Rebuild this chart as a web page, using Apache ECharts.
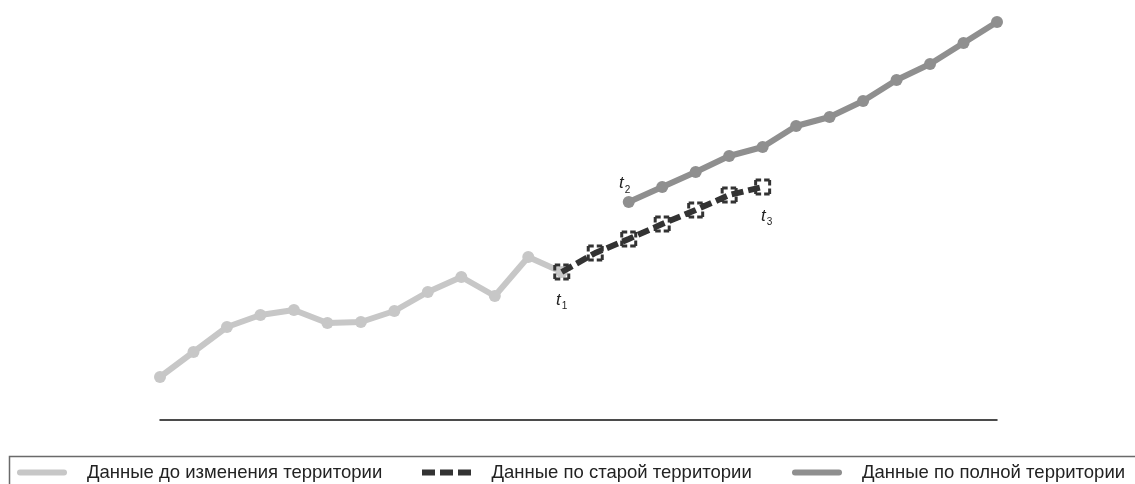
<!DOCTYPE html>
<html>
<head>
<meta charset="utf-8">
<script src="https://cdn.jsdelivr.net/npm/echarts@6/dist/echarts.min.js"></script>
<style>
html,body{margin:0;padding:0;background:#fff;}
#chart{width:1135px;height:484px;}
</style>
</head>
<body>
<div id="chart"></div>
<script>
// ---- data ----
var categories = ['1','2','3','4','5','6','7','8','9','10','11','12','13',
                  '14','15','16','17','18','19','20','21','22','23','24','25','26'];
var seriesNames = ['Данные до изменения территории', 'Данные по старой территории', 'Данные по полной территории'];
// before territory change: categories 1..13
var beforeValues = [43, 68, 93, 105, 110, 97, 98, 109, 128, 143, 124, 163, 148];
// old territory: categories 13..19
var oldValues = [148, 167, 181, 196, 210, 225, 233];
var oldStart = 12;
// full territory: categories 15..26
var fullValues = [218, 233, 248, 264, 273, 294, 303, 319, 340, 356, 377, 398];
var fullStart = 14;
var markerLabels = ['1', '2', '3'];

function pad(start, vals) {
  var out = [];
  for (var i = 0; i < categories.length; i++) {
    var j = i - start;
    out.push(j >= 0 && j < vals.length ? vals[j] : null);
  }
  return out;
}

var richT = {
  t: {fontSize: 17, fontStyle: 'italic', fontFamily: 'Liberation Sans, Arial', color: '#222', verticalAlign: 'top', lineHeight: 18},
  s: {fontSize: 10, fontFamily: 'Liberation Sans, Arial', color: '#222', verticalAlign: 'top', lineHeight: 10, padding: [10, 0, 0, 1]}
};
function tLabel(sub, pos, dist, off) {
  return {show: true, formatter: '{t|t}{s|' + sub + '}', rich: richT, position: pos, distance: dist, offset: off};
}

var beforeData = pad(0, beforeValues);
var oldData = pad(oldStart, oldValues);
var fullData = pad(fullStart, fullValues);
oldData[oldStart] = {value: oldData[oldStart], label: tLabel(markerLabels[0], 'bottom', 11, [0, 0])};
oldData[oldStart + oldValues.length - 1] = {value: oldData[oldStart + oldValues.length - 1], label: tLabel(markerLabels[2], 'bottom', 12, [4, 0])};
fullData[fullStart] = {value: fullData[fullStart], label: tLabel(markerLabels[1], 'top', 3, [-4, 0])};

var cLight = '#c7c7c7', cDark = '#333333', cMid = '#8f8f8f';
var roundLine = 'path://M3,0H47A3,3,0,0,1,47,6H3A3,3,0,0,1,3,0Z';
var dashLine = 'path://M0,0H13V6H0Z M18,0H31V6H18Z M36,0H49V6H36Z';

function legend(name, left, icon, color) {
  return {
    data: [{name: name, icon: icon, itemStyle: {color: color, borderWidth: 0}}],
    left: left, top: 463, padding: 0,
    itemWidth: 50, itemHeight: 6,
    selectedMode: false,
    itemStyle: {borderWidth: 0},
    textStyle: {fontSize: 18.5, fontFamily: 'Liberation Sans, Arial', color: '#222', padding: [0, 0, 0, 15]}
  };
}

var chart = echarts.init(document.getElementById('chart'), null, {renderer: 'canvas'});
chart.setOption({
  animation: false,
  backgroundColor: '#fff',
  grid: {left: 160, right: 138, top: 20, bottom: 64},
  xAxis: {
    type: 'category', data: categories, boundaryGap: false,
    axisLine: {show: true, lineStyle: {color: '#111', width: 1.5}},
    axisTick: {show: false}, axisLabel: {show: false}, splitLine: {show: false}
  },
  yAxis: {type: 'value', min: 0, max: 400, show: false, splitLine: {show: false}},
  legend: [
    legend(seriesNames[0], 17, roundLine, cLight),
    legend(seriesNames[1], 422, dashLine, cDark),
    legend(seriesNames[2], 792, roundLine, cMid)
  ],
  graphic: [{
    type: 'rect', silent: true,
    shape: {x: 9.5, y: 456.5, width: 1200, height: 100},
    style: {fill: 'none', stroke: '#6a6a6a', lineWidth: 1.5}
  }],
  series: [
    {
      name: seriesNames[0], type: 'line', data: beforeData, connectNulls: false,
      symbol: 'circle', symbolSize: 12, showSymbol: true,
      lineStyle: {color: cLight, width: 6},
      itemStyle: {color: cLight, borderWidth: 0},
      z: 2
    },
    {
      name: seriesNames[2], type: 'line', data: fullData,
      symbol: 'circle', symbolSize: 12,
      lineStyle: {color: cMid, width: 6},
      itemStyle: {color: cMid, borderWidth: 0},
      label: {show: false},
      z: 3
    },
    {
      name: seriesNames[1], type: 'line', data: oldData,
      symbol: 'rect', symbolSize: 14,
      lineStyle: {color: cDark, width: 6, type: [12, 5]},
      itemStyle: {color: 'rgba(255,255,255,0)', borderColor: cDark, borderWidth: 3, borderType: [5.5, 3, 5.5, 0]},
      label: {show: false},
      z: 4
    }
  ]
});
</script>
</body>
</html>
